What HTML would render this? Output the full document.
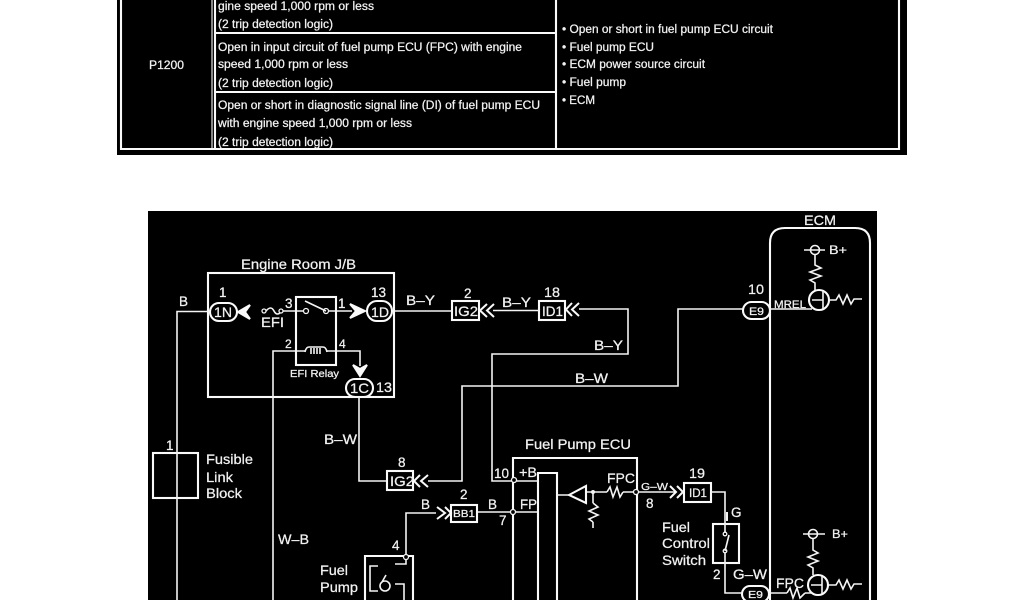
<!DOCTYPE html>
<html><head><meta charset="utf-8"><style>
html,body{margin:0;padding:0;background:#fff;width:1024px;height:600px;overflow:hidden}
svg{display:block;filter:blur(0.35px)}
text{font-family:"Liberation Sans",sans-serif;fill:#f2f2f2;font-size:14px;stroke:#f2f2f2;stroke-width:.25}
.t{font-size:11.5px}
.s{font-size:11px}
.n{font-size:13.5px}
.w{fill:none;stroke:#f4f4f4;stroke-width:1.6}
.b{fill:none;stroke:#fafafa;stroke-width:2.1}
.a{fill:none;stroke:#fafafa;stroke-width:2}
.d{fill:#000;stroke:#f4f4f4;stroke-width:1.3}
</style></head><body>
<svg width="1024" height="600" viewBox="0 0 1024 600" xmlns="http://www.w3.org/2000/svg">
<rect width="1024" height="600" fill="#fff"/>
<rect x="117" y="0" width="790" height="155" fill="#000"/>
<rect x="148" y="211" width="729" height="389" fill="#000"/>

<!-- table -->
<path class="b" d="M121 0V149H899V0M215 0V149M556 0V149M215 33H556M215 92H556"/>
<path class="w" style="stroke-width:1.1" d="M212 0V149"/>
<text class="t" x="149" y="69" textLength="35" lengthAdjust="spacingAndGlyphs">P1200</text>
<text class="t" x="218" y="10" textLength="156" lengthAdjust="spacingAndGlyphs">gine speed 1,000 rpm or less</text>
<text class="t" x="218" y="28" textLength="115" lengthAdjust="spacingAndGlyphs">(2 trip detection logic)</text>
<text class="t" x="218" y="51" textLength="304" lengthAdjust="spacingAndGlyphs">Open in input circuit of fuel pump ECU (FPC) with engine</text>
<text class="t" x="218" y="68" textLength="130" lengthAdjust="spacingAndGlyphs">speed 1,000 rpm or less</text>
<text class="t" x="218" y="87" textLength="115" lengthAdjust="spacingAndGlyphs">(2 trip detection logic)</text>
<text class="t" x="218" y="109" textLength="322" lengthAdjust="spacingAndGlyphs">Open or short in diagnostic signal line (DI) of fuel pump ECU</text>
<text class="t" x="218" y="127" textLength="194" lengthAdjust="spacingAndGlyphs">with engine speed 1,000 rpm or less</text>
<text class="t" x="218" y="146" textLength="115" lengthAdjust="spacingAndGlyphs">(2 trip detection logic)</text>
<text class="t" x="562" y="33" textLength="211" lengthAdjust="spacingAndGlyphs">• Open or short in fuel pump ECU circuit</text>
<text class="t" x="562" y="51" textLength="92" lengthAdjust="spacingAndGlyphs">• Fuel pump ECU</text>
<text class="t" x="562" y="68" textLength="143" lengthAdjust="spacingAndGlyphs">• ECM power source circuit</text>
<text class="t" x="562" y="86" textLength="64" lengthAdjust="spacingAndGlyphs">• Fuel pump</text>
<text class="t" x="562" y="104" textLength="33" lengthAdjust="spacingAndGlyphs">• ECM</text>

<!-- boxes -->
<rect class="b" x="208" y="273" width="186" height="124"/>
<rect class="b" x="296" y="297" width="40" height="68"/>
<rect class="b" x="153" y="453" width="45" height="45"/>
<rect class="b" x="452" y="301" width="27" height="19"/>
<rect class="b" x="539" y="301" width="26" height="19"/>
<rect class="b" x="387" y="471" width="26" height="19"/>
<rect class="b" x="451" y="505" width="26" height="17"/>
<rect class="b" x="684" y="483" width="27" height="19"/>
<rect class="b" x="713" y="524" width="26" height="39"/>
<path class="b" d="M770 600V243Q770 228 785 228H855Q870 228 870 243V600"/>
<path class="b" d="M513 600V458H637V600M538 600V473H557V600M365 600V556H413V600"/>

<!-- connectors ovals -->
<rect class="b" x="210" y="303" width="27" height="18" rx="9"/>
<rect class="b" x="367" y="301" width="25" height="20" rx="10"/>
<rect class="b" x="346" y="379" width="27" height="18" rx="9"/>
<rect class="b" x="743" y="302" width="27" height="17" rx="8.5"/>
<rect class="b" x="742" y="586" width="27" height="16" rx="8"/>

<!-- wires -->
<path class="w" d="M210 311.500H177V600M282 311H304M328 311H352M392 311H452M493 310.500H539M579 309H628V354H492V481H513M273 600V351H305M327 351H360V366M359 397V481H387M428 481H462V386H678V309H743M406 557V513H436M477 512H538M513 481H538M557 495H569M586 492H607M623 492H675M593 492V503M593 522V528M711 492H725V534M725 551V593H742M770 309H812M770 593H787M805 593H812"/>
<path class="w" d="M406 557V564H395M378 566H370V591H378M395 584H404V600"/>
<circle class="w" cx="385" cy="586" r="5"/>
<path class="w" d="M382 582L386 575"/>
<path class="w" style="stroke-width:2" d="M727 512V521"/>

<!-- arrows -->
<path class="a" style="fill:#fafafa" d="M238 312L250 305L245 312L250 319Z"/>
<path class="a" style="fill:#fafafa" d="M365 311L350 304L356 311L350 318Z"/>
<path class="a" style="fill:#fafafa" d="M360 376L353 365L360 369L367 365Z"/>
<path class="a" d="M487 304L480 310.500L487 317M494 304L487 310.500L494 317M572 303L566 309.500L572 316M579 303L572 309.500L579 316M420 475L414 481L420 487M428 475L421 481L428 487M670 486L676 492L670 498M677 486L683 492L677 498M437 507L445 513L437 519M445 507L451 513L445 519"/>

<!-- fuse, relay -->
<path class="w" d="M266 311Q271 305 274 311T282 311"/>
<circle class="d" cx="264" cy="311" r="2"/><circle class="d" cx="281" cy="311" r="2"/>
<circle class="d" cx="306" cy="311" r="2.500"/><circle class="d" cx="326" cy="311" r="2.500"/>
<path class="w" d="M305 301L326 311"/>
<path class="w" d="M305 352Q306 347 309 347H323Q326 347 327 352"/>
<path class="w" d="M311 348V354M314 348V354M317 348V354M320 348V354"/>
<!-- switch -->
<circle class="d" cx="725" cy="534" r="1.800"/><circle class="d" cx="725" cy="551" r="1.800"/>
<path class="w" d="M725 551L729 535"/>

<!-- dots -->
<circle class="d" cx="514" cy="480" r="2.500"/><circle class="d" cx="513" cy="512" r="2.500"/>
<circle class="d" cx="636" cy="492" r="2.500"/><circle cx="593" cy="492" r="2" fill="#f4f4f4"/>
<circle class="d" cx="406" cy="557" r="2.500"/>

<!-- amp -->
<path class="b" d="M569 495L586 486V503Z"/>
<path class="w" d="M607 492L610 487L613 497L617 487L620 497L623 492M593 503L598 507L589 511L598 515L589 519L593 522"/>

<!-- ECM internals -->
<circle class="w" cx="815" cy="250" r="4.500"/><path class="w" d="M804 250H825M815 254V265L821 268L810 272L821 276L810 280L815 283V291"/>
<circle class="b" cx="819" cy="300" r="10"/><path class="w" d="M823 291V309M812 300H823M829 300H836L839 295L843 304L847 295L851 304L854 299H862"/>
<circle class="w" cx="813" cy="534" r="4.500"/><path class="w" d="M803 534H825M813 538V550L818 553L808 557L818 561L808 565L813 568V575"/>
<circle class="b" cx="818" cy="585" r="10"/><path class="w" d="M822 576V594M811 585H822M829 585H836L839 580L843 589L847 580L851 589L854 584H862"/>
<path class="w" d="M787 593L790 588L793 598L797 588L800 598L805 593"/>

<!-- labels -->
<text x="241" y="269" textLength="115" lengthAdjust="spacingAndGlyphs">Engine Room J/B</text>
<text class="n" x="179" y="306">B</text>
<text class="n" x="219" y="297">1</text>
<text class="s" x="214" y="317" style="font-size:14px" textLength="18" lengthAdjust="spacingAndGlyphs">1N</text>
<text class="n" x="285" y="308">3</text>
<text class="n" x="338" y="308">1</text>
<text class="n" x="371" y="297">13</text>
<text class="s" x="371" y="317" style="font-size:14px" textLength="18" lengthAdjust="spacingAndGlyphs">1D</text>
<text class="n" x="406" y="305" textLength="29" lengthAdjust="spacingAndGlyphs">B–Y</text>
<text class="n" x="261" y="327" textLength="23" lengthAdjust="spacingAndGlyphs">EFI</text>
<text class="n" x="285" y="348" style="font-size:12px">2</text>
<text class="n" x="339" y="348" style="font-size:12px">4</text>
<text x="290" y="377" style="font-size:10px" textLength="49" lengthAdjust="spacingAndGlyphs">EFI Relay</text>
<text x="350" y="393" style="font-size:14px" textLength="19" lengthAdjust="spacingAndGlyphs">1C</text>
<text class="n" x="376" y="392" textLength="16" lengthAdjust="spacingAndGlyphs">13</text>
<text class="n" x="464" y="298">2</text>
<text x="454" y="316" style="font-size:14px" textLength="24" lengthAdjust="spacingAndGlyphs">IG2</text>
<text class="n" x="502" y="307" textLength="29" lengthAdjust="spacingAndGlyphs">B–Y</text>
<text class="n" x="544" y="297" textLength="16" lengthAdjust="spacingAndGlyphs">18</text>
<text x="542" y="316" style="font-size:14px" textLength="21" lengthAdjust="spacingAndGlyphs">ID1</text>
<text class="n" x="594" y="350" textLength="29" lengthAdjust="spacingAndGlyphs">B–Y</text>
<text class="n" x="575" y="383" textLength="33" lengthAdjust="spacingAndGlyphs">B–W</text>
<text class="n" x="324" y="444" textLength="33" lengthAdjust="spacingAndGlyphs">B–W</text>
<text class="n" x="398" y="467">8</text>
<text x="390" y="486" style="font-size:14px" textLength="24" lengthAdjust="spacingAndGlyphs">IG2</text>
<text class="n" x="166" y="450">1</text>
<text x="206" y="464" textLength="47" lengthAdjust="spacingAndGlyphs">Fusible</text>
<text x="206" y="482" textLength="27" lengthAdjust="spacingAndGlyphs">Link</text>
<text x="206" y="498" textLength="36" lengthAdjust="spacingAndGlyphs">Block</text>
<text class="n" x="278" y="544" textLength="31" lengthAdjust="spacingAndGlyphs">W–B</text>
<text x="320" y="575" textLength="28" lengthAdjust="spacingAndGlyphs">Fuel</text>
<text x="320" y="592" textLength="38" lengthAdjust="spacingAndGlyphs">Pump</text>
<text class="n" x="392" y="550">4</text>
<text class="n" x="421" y="509">B</text>
<text class="n" x="460" y="499">2</text>
<text x="453" y="517" style="font-size:10.5px" textLength="22" lengthAdjust="spacingAndGlyphs">BB1</text>
<text class="n" x="488" y="509">B</text>
<text class="n" x="494" y="478" textLength="15" lengthAdjust="spacingAndGlyphs">10</text>
<text class="n" x="499" y="525">7</text>
<text class="n" x="519" y="477" textLength="18" lengthAdjust="spacingAndGlyphs">+B</text>
<text class="n" x="520" y="509" textLength="17" lengthAdjust="spacingAndGlyphs">FP</text>
<text x="525" y="449" textLength="106" lengthAdjust="spacingAndGlyphs">Fuel Pump ECU</text>
<text class="n" x="607" y="483" textLength="28" lengthAdjust="spacingAndGlyphs">FPC</text>
<text x="641" y="490" style="font-size:10.5px" textLength="27" lengthAdjust="spacingAndGlyphs">G–W</text>
<text class="n" x="646" y="508">8</text>
<text class="n" x="689" y="478" textLength="16" lengthAdjust="spacingAndGlyphs">19</text>
<text x="689" y="497" style="font-size:12px" textLength="18" lengthAdjust="spacingAndGlyphs">ID1</text>
<text class="n" x="731" y="517">G</text>
<text x="662" y="532" textLength="28" lengthAdjust="spacingAndGlyphs">Fuel</text>
<text x="662" y="548" textLength="48" lengthAdjust="spacingAndGlyphs">Control</text>
<text x="662" y="565" textLength="44" lengthAdjust="spacingAndGlyphs">Switch</text>
<text class="n" x="713" y="579">2</text>
<text class="n" x="733" y="579" textLength="34" lengthAdjust="spacingAndGlyphs">G–W</text>
<text x="748" y="598" style="font-size:10.5px" textLength="15" lengthAdjust="spacingAndGlyphs">E9</text>
<text class="n" x="748" y="294" textLength="16" lengthAdjust="spacingAndGlyphs">10</text>
<text x="749" y="315" style="font-size:11px" textLength="15" lengthAdjust="spacingAndGlyphs">E9</text>
<text x="804" y="225" textLength="32" lengthAdjust="spacingAndGlyphs">ECM</text>
<text x="829" y="254" style="font-size:12px" textLength="18" lengthAdjust="spacingAndGlyphs">B+</text>
<text x="774" y="308" style="font-size:11px" textLength="32" lengthAdjust="spacingAndGlyphs">MREL</text>
<text x="832" y="538" style="font-size:12px" textLength="16" lengthAdjust="spacingAndGlyphs">B+</text>
<text class="n" x="776" y="588" textLength="28" lengthAdjust="spacingAndGlyphs">FPC</text>
</svg>
</body></html>
